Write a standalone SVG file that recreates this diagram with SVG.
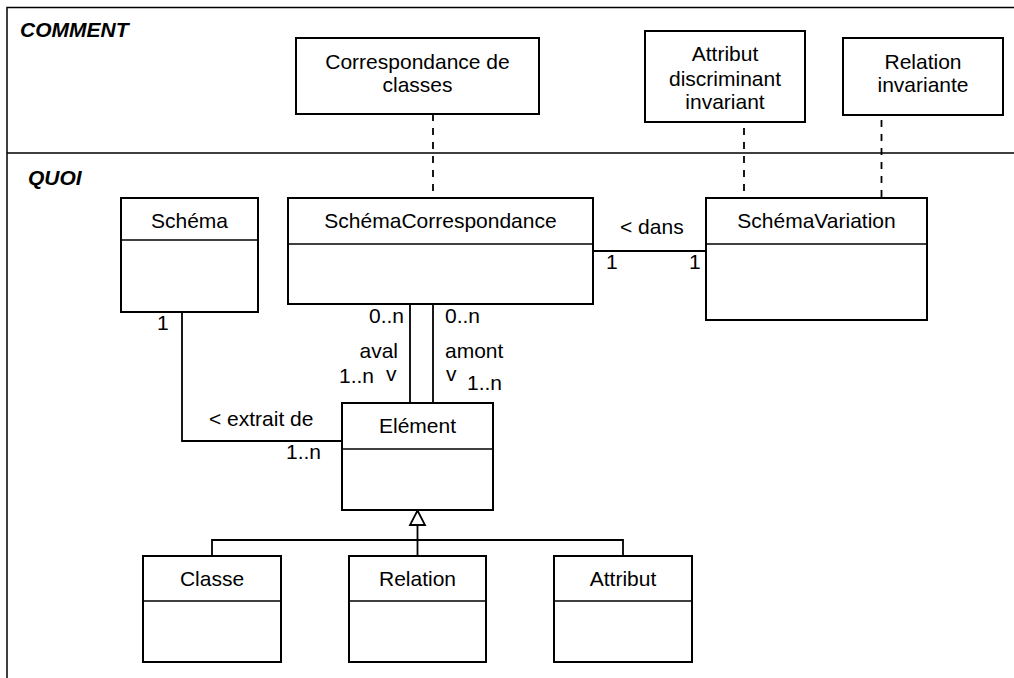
<svg xmlns="http://www.w3.org/2000/svg" width="1014" height="678" viewBox="0 0 1014 678">
<style>
text{font-family:"Liberation Sans",Arial,sans-serif;font-size:21px;fill:#000}
.c{text-anchor:middle}
.e{text-anchor:end}
.h{font-weight:bold;font-style:italic}
.box{fill:#fff;stroke:#000;stroke-width:2}
.div{stroke:#000;stroke-width:1.6}
.ln{fill:none;stroke:#000;stroke-width:1.8}
.dash{fill:none;stroke:#000;stroke-width:1.8;stroke-dasharray:7 7}
.frame{fill:none;stroke:#000;stroke-width:1.5}
</style>
<rect width="1014" height="678" fill="#fff"/>
<g id="frame">
<path class="frame" d="M7,700 V7.5 H1020 M7,153 H1020"/>
<text class="h" x="20" y="37">COMMENT</text>
<text class="h" x="28" y="185">QUOI</text>
</g>
<g id="connectors">
<path class="dash" d="M433,114 V193"/>
<path class="dash" d="M744,128 V192"/>
<path class="dash" d="M881.5,120 V198"/>
<path class="ln" d="M182,312 V441 H342"/>
<path class="ln" d="M410,304 V403 M433,304 V403"/>
<path class="ln" d="M593,251 H706"/>
<path class="ln" d="M417.5,525 V556 M212,556 V540 H623 V556"/>
<path d="M417.5,510.5 L425,525 L410,525 Z" fill="#fff" stroke="#000" stroke-width="1.8"/>
<text x="157" y="330">1</text>
<text x="209" y="426">&lt; extrait de</text>
<text x="286" y="459">1..n</text>
<text class="e" x="404" y="323">0..n</text>
<text x="445" y="323">0..n</text>
<text class="e" x="398" y="358">aval</text>
<text x="445" y="358">amont</text>
<text x="339" y="383">1..n</text>
<text x="386" y="381">v</text>
<text x="446" y="381">v</text>
<text x="467" y="390">1..n</text>
<text x="620" y="234">&lt; dans</text>
<text x="606" y="269">1</text>
<text x="689" y="269">1</text>
</g>
<g id="note-correspondance">
<rect class="box" x="296" y="38" width="243" height="76"/>
<text class="c" x="417.5" y="69">Correspondance de</text>
<text class="c" x="417.5" y="92">classes</text>
</g>
<g id="note-attribut">
<rect class="box" x="645" y="31" width="160" height="91"/>
<text class="c" x="725" y="61">Attribut</text>
<text class="c" x="725" y="86">discriminant</text>
<text class="c" x="725" y="109">invariant</text>
</g>
<g id="note-relation">
<rect class="box" x="843" y="38" width="160" height="77"/>
<text class="c" x="923" y="69">Relation</text>
<text class="c" x="923" y="92">invariante</text>
</g>
<g id="schema">
<rect class="box" x="121" y="198" width="137" height="114"/>
<path class="div" d="M121,240 H258"/>
<text class="c" x="189.5" y="228">Schéma</text>
</g>
<g id="schema-correspondance">
<rect class="box" x="288" y="198" width="305" height="106"/>
<path class="div" d="M288,244 H593"/>
<text class="c" x="440.5" y="228">SchémaCorrespondance</text>
</g>
<g id="schema-variation">
<rect class="box" x="706" y="198" width="221" height="122"/>
<path class="div" d="M706,244 H927"/>
<text class="c" x="816.5" y="228">SchémaVariation</text>
</g>
<g id="element">
<rect class="box" x="342" y="403" width="151" height="107"/>
<path class="div" d="M342,449 H493"/>
<text class="c" x="417.5" y="433">Elément</text>
</g>
<g id="classe">
<rect class="box" x="143" y="556" width="138" height="106"/>
<path class="div" d="M143,601 H281"/>
<text class="c" x="212" y="586">Classe</text>
</g>
<g id="relation">
<rect class="box" x="349" y="556" width="137" height="106"/>
<path class="div" d="M349,601 H486"/>
<text class="c" x="417.5" y="586">Relation</text>
</g>
<g id="attribut">
<rect class="box" x="554" y="556" width="138" height="106"/>
<path class="div" d="M554,601 H692"/>
<text class="c" x="623" y="586">Attribut</text>
</g>
</svg>
